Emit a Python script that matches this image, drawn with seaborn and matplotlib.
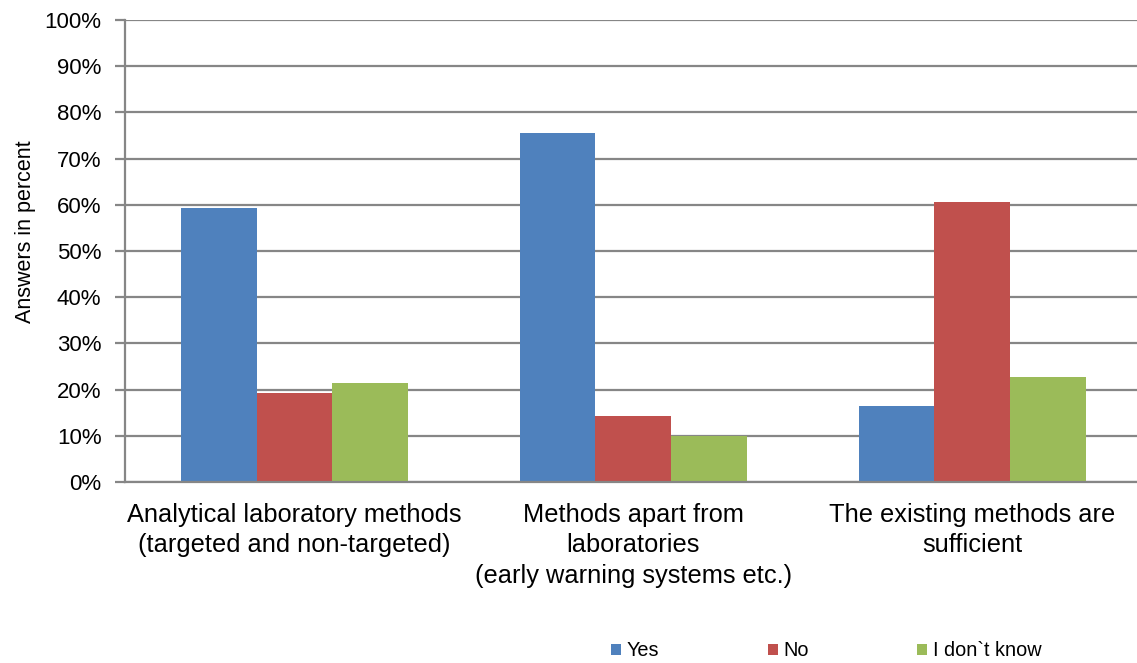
import matplotlib
matplotlib.use("Agg")
import matplotlib.pyplot as plt
from matplotlib.patches import Patch
from matplotlib.ticker import MultipleLocator, PercentFormatter
import seaborn as sns
import pandas as pd

# Survey answers (percent of respondents)
categories = [
    "Analytical laboratory methods\n(targeted and non-targeted)",
    "Methods apart from\nlaboratories\n(early warning systems etc.)",
    "The existing methods are\nsufficient",
]
answers = ["Yes", "No", "I don`t know"]
yes_values = [59.2, 75.6, 16.4]
no_values = [19.3, 14.2, 60.6]
dont_know_values = [21.4, 10.0, 22.8]
colors = ["#4F81BD", "#C0504D", "#9BBB59"]

rows = []
for answer, vals in zip(answers, [yes_values, no_values, dont_know_values]):
    for cat, v in zip(categories, vals):
        rows.append({"category": cat, "answer": answer, "percent": v})
df = pd.DataFrame(rows)

sns.set_theme(style="white")
plt.rcParams["font.family"] = ["Liberation Sans", "DejaVu Sans"]
plt.rcParams["text.color"] = "black"

fig = plt.figure(figsize=(11.37, 6.63), dpi=100)
ax = fig.add_axes([0.110, 0.273, 0.894, 0.697])

sns.barplot(
    data=df, x="category", y="percent", hue="answer",
    order=categories, hue_order=answers, palette=colors,
    width=0.67, saturation=1, linewidth=0, legend=False, ax=ax,
)

grid_color = "#868686"
ax.set_ylim(0, 100)
ax.set_xlim(-0.5, len(categories) - 0.5)
ax.yaxis.set_major_locator(MultipleLocator(10))
ax.yaxis.set_major_formatter(PercentFormatter(decimals=0))
ax.yaxis.grid(True, color=grid_color, linewidth=1.6)
ax.set_axisbelow(True)

for side in ["top", "right"]:
    ax.spines[side].set_visible(False)
for side in ["left", "bottom"]:
    ax.spines[side].set_color(grid_color)
    ax.spines[side].set_linewidth(1.6)

# Category boundaries carry the tick marks, labels sit at the centres
ax.set_xticks([i - 0.5 for i in range(len(categories) + 1)], minor=True)
ax.tick_params(axis="x", which="minor", length=7, width=1.6, color=grid_color, direction="out")
ax.tick_params(axis="x", which="major", length=0, pad=15, labelsize=18.3, labelcolor="black")
for lbl in ax.get_xticklabels():
    lbl.set_linespacing(1.35)
ax.tick_params(axis="y", which="major", length=7, width=1.6, color=grid_color,
               direction="out", labelsize=16, labelcolor="black", pad=10, left=True)

ax.set_xlabel("")
ax.set_ylabel("Answers in percent", fontsize=15.5, color="black")
ax.yaxis.set_label_coords(-0.088, 0.541)

handles = [Patch(facecolor=c, edgecolor="none", label=a) for c, a in zip(colors, answers)]
fig.legend(
    handles=handles, loc="center left", bbox_to_anchor=(611 / 1137, 1 - 651 / 663),
    ncol=3, frameon=False, fontsize=14.3, handlelength=0.5, handleheight=0.5,
    handletextpad=0.3, columnspacing=5.45, borderpad=0, borderaxespad=0,
    labelcolor="black",
)

fig.savefig("out.png", dpi=100)
